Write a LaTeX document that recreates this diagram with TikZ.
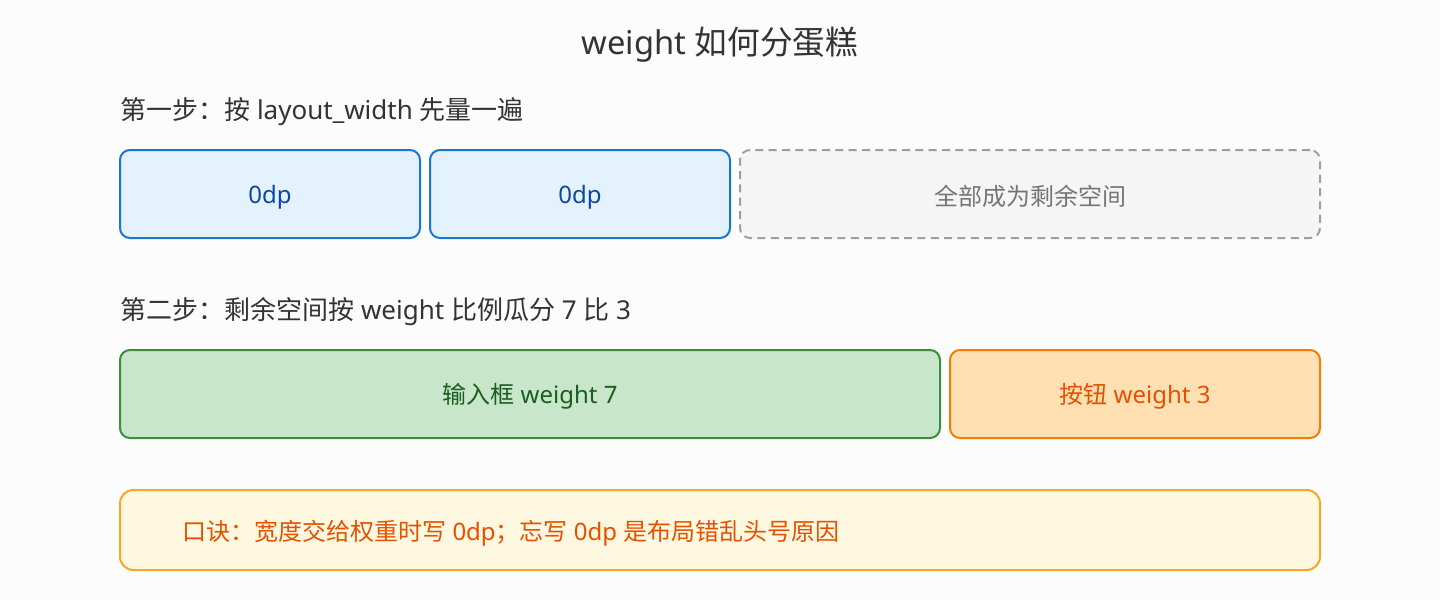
\documentclass[tikz,border=0pt]{standalone}
\usepackage{fontspec}
\setmainfont{Noto Sans}
\newfontfamily\cjk{Noto Sans CJK SC}
\definecolor{bg}{RGB}{252,252,252}
\definecolor{dark}{RGB}{51,51,51}
\definecolor{bstroke}{RGB}{25,118,210}
\definecolor{bfill}{RGB}{227,242,253}
\definecolor{btext}{RGB}{13,71,161}
\definecolor{gstroke}{RGB}{158,158,158}
\definecolor{gfill}{RGB}{245,245,245}
\definecolor{gtext}{RGB}{117,117,117}
\definecolor{grstroke}{RGB}{56,142,60}
\definecolor{grfill}{RGB}{200,230,201}
\definecolor{grtext}{RGB}{27,94,32}
\definecolor{ostroke}{RGB}{245,124,0}
\definecolor{ofill}{RGB}{255,224,178}
\definecolor{otext}{RGB}{230,81,0}
\definecolor{nstroke}{RGB}{249,168,37}
\definecolor{nfill}{RGB}{255,248,225}
\begin{document}
\begin{tikzpicture}[x=0.75pt,y=-0.75pt,
  box/.style={draw,line width=1.5pt,rounded corners=7.5pt,inner sep=0pt},
  txt/.style={font=\fontsize{18pt}{22pt}\selectfont},
  bluebox/.style={box,draw=bstroke,fill=bfill,text=btext},
  graybox/.style={box,dash pattern=on 6pt off 4pt,draw=gstroke,fill=gfill,text=gtext},
  greenbox/.style={box,draw=grstroke,fill=grfill,text=grtext},
  orangebox/.style={box,draw=ostroke,fill=ofill,text=otext},
  notebox/.style={box,rounded corners=10pt,draw=nstroke,fill=nfill},
  heading/.style={font=\fontsize{19.5pt}{23pt}\selectfont,anchor=west,text=dark,inner sep=0pt},
  label/.style={txt,inner sep=0pt}
]
\fill[bg] (0,0) rectangle (1440,600);
\useasboundingbox (0,0) rectangle (1440,600);

\node[font=\fontsize{24.5pt}{28pt}\selectfont,text=dark,inner sep=0pt] (title) at (720,45) {weight {\cjk 如何分蛋糕}};

\node[heading] (step1) at (120,112) {{\cjk 第一步：按} layout\_width {\cjk 先量一遍}};
\node[bluebox,minimum width=225pt,minimum height=66pt] (b1) at (270,194) {};
\node[label,text=btext] (b1t) at (b1.center) [yshift=-2.5pt] {0dp};
\node[bluebox,minimum width=225pt,minimum height=66pt] (b2) at (580,194) {};
\node[label,text=btext] (b2t) at (b2.center) [yshift=-2.5pt] {0dp};
\node[graybox,minimum width=435pt,minimum height=66pt] (b3) at (1030,194) {};
\node[label,text=gtext] (b3t) at (b3.center) [yshift=-1.5pt] {\cjk 全部成为剩余空间};

\node[heading] (step2) at (120,312) {{\cjk 第二步：剩余空间按} weight {\cjk 比例瓜分} 7 {\cjk 比} 3};
\node[greenbox,minimum width=615pt,minimum height=66pt] (g1) at (530,394) {};
\node[label,text=grtext] (g1t) at (g1.center) [yshift=-2pt] {{\cjk 输入框} weight 7};
\node[orangebox,minimum width=277.5pt,minimum height=66pt] (o1) at (1135,394) {};
\node[label,text=otext] (o1t) at (o1.center) [yshift=-2pt] {{\cjk 按钮} weight 3};

\node[notebox,minimum width=900pt,minimum height=60pt] (note) at (720,530) {};
\node[txt,anchor=west,inner sep=0pt,text=otext] (notetext) at (182,533) {{\cjk 口诀：宽度交给权重时写} 0dp{\cjk ；忘写} 0dp {\cjk 是布局错乱头号原因}};
\end{tikzpicture}
\end{document}
